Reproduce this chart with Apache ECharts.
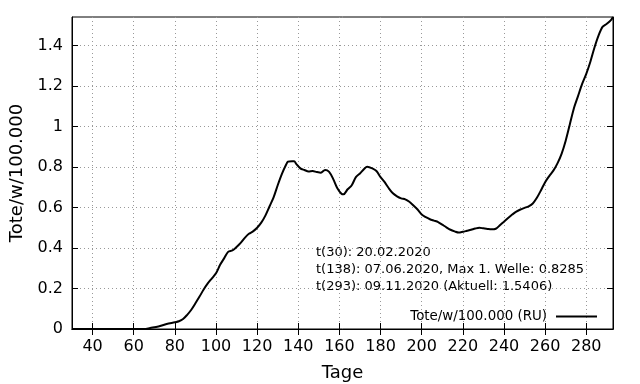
<!DOCTYPE html>
<html>
<head>
<meta charset="utf-8">
<script src="https://cdn.jsdelivr.net/npm/echarts@6/dist/echarts.min.js"></script>
<style>html,body{margin:0;padding:0;background:#fff}#c{width:640px;height:384px}</style>
</head>
<body>
<div id="c"></div>
<script>
const days = [30,40,50,60,65,68,72,76,80,82,84,86,88,90,92,94,96,98,100,102,104,106,108,110,112,114,116,118,120,122,124,126,128,130,132,134,135,137,138,139,141,143,145,147,149,151,153,155,157,159,161,162,164,166,168,170,172,173.5,176,178,180,182,184,186,188,190,192,194,196,198,200,202,204,206,208,210,212,214,216,218,220,222,224,226,228,230,232,234,236,238,240,242,244,246,248,250,252,254,256,258,260,262,264,266,268,270,272,274,276,278,280,282,284,286,288,290,292,293];
const values = [0,0,0,0,0,0.005,0.012,0.025,0.033,0.038,0.049,0.07,0.095,0.127,0.16,0.195,0.225,0.25,0.275,0.317,0.35,0.382,0.388,0.405,0.425,0.45,0.47,0.482,0.5,0.525,0.56,0.605,0.65,0.71,0.765,0.81,0.826,0.8285,0.8285,0.815,0.793,0.785,0.778,0.78,0.775,0.772,0.785,0.776,0.74,0.695,0.668,0.665,0.69,0.71,0.75,0.768,0.79,0.801,0.793,0.78,0.75,0.725,0.695,0.67,0.655,0.645,0.64,0.628,0.61,0.59,0.565,0.552,0.542,0.535,0.528,0.515,0.502,0.49,0.482,0.476,0.48,0.485,0.49,0.496,0.5,0.497,0.494,0.492,0.495,0.512,0.53,0.548,0.565,0.58,0.59,0.598,0.606,0.62,0.648,0.685,0.725,0.755,0.782,0.818,0.865,0.93,1.01,1.09,1.15,1.21,1.26,1.32,1.39,1.45,1.493,1.507,1.525,1.5406];
const xTicks = [40,60,80,100,120,140,160,180,200,220,240,260,280];
const yTicks = [0,0.2,0.4,0.6,0.8,1,1.2,1.4];
const xRange = [30,293];
const yRange = [0,1.5406];
const seriesName = 'Tote/w/100.000 (RU)';
const notes = ['t(30): 20.02.2020','t(138): 07.06.2020, Max 1. Welle: 0.8285','t(293): 09.11.2020 (Aktuell: 1.5406)'];
const xName = 'Tage';
const yName = 'Tote/w/100.000';

const FONT = 'DejaVu Sans';
const chart = echarts.init(document.getElementById('c'), null, {renderer:'canvas'});
const grid = {left:72, right:27, top:17, bottom:55, show:true, borderColor:'#000', borderWidth:1, containLabel:false, outerBoundsMode:'none'};
function xa(pos, main){
  return {type:'value', position:pos, min:xRange[0], max:xRange[1],
    name: main ? xName : '', nameLocation:'middle', nameGap:35,
    nameTextStyle:{fontFamily:FONT, fontSize:18, color:'#000'},
    axisLine:{show:true, lineStyle:{color:'#000', width:1}},
    axisTick:{show:true, inside:true, length:6, customValues:xTicks, lineStyle:{color:'#000'}},
    axisLabel:{show:main, customValues:xTicks, margin:10, fontFamily:FONT, fontSize:16, color:'#000'},
    splitLine:{show:main, lineStyle:{color:'#999', type:[1,3], width:1}}};
}
function ya(pos, main){
  return {type:'value', position:pos, min:yRange[0], max:yRange[1],
    name: main ? yName : '', nameLocation:'middle', nameGap:46, nameRotate:90,
    nameTextStyle:{fontFamily:FONT, fontSize:18, color:'#000'},
    axisLine:{show:true, lineStyle:{color:'#000', width:1}},
    axisTick:{show:true, inside:true, length:6, customValues:yTicks, lineStyle:{color:'#000'}},
    axisLabel:{show:main, customValues:yTicks, margin:9, fontFamily:FONT, fontSize:16, color:'#000',
      formatter: v => String(Math.round(v*10)/10)},
    splitLine:{show:main, lineStyle:{color:'#999', type:[1,3], width:1}}};
}
chart.setOption({
  animation:false,
  grid: grid,
  xAxis:[xa('bottom',true), xa('top',false)],
  yAxis:[ya('left',true), ya('right',false)],
  legend:{show:true, data:[{name:seriesName, icon:'rect'}], right:38, top:305, align:'right',
    itemWidth:41, itemHeight:2, itemGap:8,
    textStyle:{fontFamily:FONT, fontSize:13.4, color:'#000', padding:[0,4,0,0]}},
  graphic: notes.map((t,i)=>({type:'text', left:316, top:246+i*17,
    style:{text:t, font:'13px "DejaVu Sans"', fill:'#000'}})),
  series:[{type:'line', name:seriesName, xAxisIndex:0, yAxisIndex:0, showSymbol:false, symbol:'none',
    smooth:0.3, lineStyle:{color:'#000', width:2}, itemStyle:{color:'#000'},
    data: days.map((d,i)=>[d, values[i]])}]
});
</script>
</body>
</html>
